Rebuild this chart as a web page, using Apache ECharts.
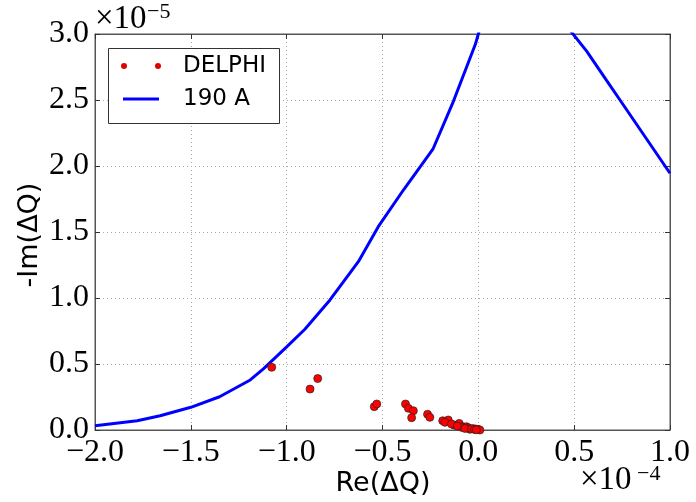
<!DOCTYPE html>
<html><head><meta charset="utf-8">
<script src="https://cdn.jsdelivr.net/npm/echarts@6/dist/echarts.min.js"></script>
<style>html,body{margin:0;padding:0;background:#fff}#c{width:696px;height:502px}</style>
</head><body><div id="c"></div>
<script>
// Values in units of 1e-4 (x, Re) and 1e-5 (y, -Im)
const delphiRe = [-1.078,-0.878,-0.838,-0.543,-0.530,-0.380,-0.365,-0.339,-0.348,-0.265,-0.253,-0.186,-0.157,-0.174,-0.127,-0.100,-0.080,-0.088,-0.062,-0.053,-0.045,-0.027,-0.015,-0.001,0.008,-0.140,-0.110,-0.070,-0.035,-0.020,-0.010];
const delphiIm = [0.475,0.310,0.390,0.177,0.197,0.197,0.164,0.146,0.093,0.119,0.096,0.070,0.076,0.058,0.038,0.050,0.025,0.020,0.025,0.017,0.005,0.010,0.008,0.005,0.000,0.045,0.030,0.012,0.010,0.004,0.002];
const lineRe = [-2.0,-1.78,-1.66,-1.50,-1.35,-1.19,-1.12,-1.0,-0.905,-0.774,-0.626,-0.522,-0.39,-0.237,-0.13,-0.016,0.05,0.20,0.35,0.45,0.565,0.668,0.739,1.0];
const lineIm = [0.033,0.070,0.108,0.172,0.252,0.379,0.465,0.63,0.763,0.985,1.275,1.54,1.82,2.127,2.49,2.92,3.25,3.55,3.40,3.08,2.87,2.65,2.50,1.945];
const xTicks = [-2.0,-1.5,-1.0,-0.5,0.0,0.5,1.0];
const yTicks = [0.0,0.5,1.0,1.5,2.0,2.5,3.0];

const fmt = v => (v < 0 ? '\u2212' : '') + Math.abs(v).toFixed(1);
const serif = 'Liberation Serif';
const grid = {left:95, right:26, top:34, bottom:72, show:true, borderColor:'#555', borderWidth:1};
const gridLine = {show:true, lineStyle:{color:'#aaa', type:[1,3], width:1}};

const chart = echarts.init(document.getElementById('c'), null, {renderer:'canvas'});
chart.setOption({
  animation:false,
  grid: grid,
  xAxis: [
    {type:'value', min:-2.0, max:1.0, interval:0.5, position:'bottom',
     axisLine:{show:true, onZero:false, lineStyle:{color:'#555'}},
     axisTick:{show:true, inside:true, length:5, lineStyle:{color:'#333'}},
     axisLabel:{formatter:fmt, fontFamily:serif, fontSize:32, color:'#000', margin:7},
     splitLine:gridLine},
    {type:'value', min:-2.0, max:1.0, interval:0.5, position:'top',
     axisLine:{show:true, onZero:false, lineStyle:{color:'#555'}},
     axisTick:{show:true, inside:true, length:5, lineStyle:{color:'#333'}},
     axisLabel:{show:false}, splitLine:{show:false}}
  ],
  yAxis: [
    {type:'value', min:0, max:3.0, interval:0.5, position:'left',
     axisLine:{show:true, onZero:false, lineStyle:{color:'#555'}},
     axisTick:{show:true, inside:true, length:5, lineStyle:{color:'#333'}},
     axisLabel:{formatter:fmt, fontFamily:serif, fontSize:32, color:'#000', margin:6},
     splitLine:gridLine},
    {type:'value', min:0, max:3.0, interval:0.5, position:'right',
     axisLine:{show:true, onZero:false, lineStyle:{color:'#555'}},
     axisTick:{show:true, inside:true, length:5, lineStyle:{color:'#333'}},
     axisLabel:{show:false}, splitLine:{show:false}}
  ],
  series: [
    {name:'190 A', type:'line', data: lineRe.map((x,i)=>[x,lineIm[i]]), showSymbol:false, symbol:'none',
     clip:true, lineStyle:{color:'#0000ff', width:3}, z:2},
    {name:'DELPHI', type:'scatter', data: delphiRe.map((x,i)=>[x,delphiIm[i]]), symbol:'circle', symbolSize:8,
     clip:false, itemStyle:{color:'#ff0000', opacity:1, borderColor:'#222', borderWidth:0.7}, z:3}
  ],
  graphic: [
    {type:'text', x:95, y:36, style:{text:'\u00d710', font:'33px "Liberation Serif"', fill:'#000', verticalAlign:'bottom'}, z:20},
    {type:'text', x:147, y:23, style:{text:'\u22125', font:'22px "Liberation Serif"', fill:'#000', verticalAlign:'bottom'}, z:20},
    {type:'text', x:580, y:497, style:{text:'\u00d710', font:'33px "Liberation Serif"', fill:'#000', verticalAlign:'bottom'}},
    {type:'text', x:637, y:485, style:{text:'\u22124', font:'22px "Liberation Serif"', fill:'#000', verticalAlign:'bottom'}},
    {type:'text', x:383, y:484, style:{text:'Re(\u0394Q)', font:'27px "DejaVu Sans"', fill:'#000', align:'center', verticalAlign:'middle'}},
    {type:'text', x:30, y:235, rotation:Math.PI/2, style:{text:'-Im(\u0394Q)', font:'27px "DejaVu Sans"', fill:'#000', align:'center', verticalAlign:'middle'}},
    {type:'rect', shape:{x:108.5, y:48.5, width:171, height:75}, style:{fill:'#fff', stroke:'#333', lineWidth:1}, z:10},
    {type:'circle', shape:{cx:124, cy:66, r:3}, style:{fill:'#e00000'}, z:11},
    {type:'circle', shape:{cx:158, cy:66, r:3}, style:{fill:'#e00000'}, z:11},
    {type:'text', x:183, y:66, style:{text:'DELPHI', font:'23px "DejaVu Sans"', fill:'#000', verticalAlign:'middle'}, z:11},
    {type:'line', shape:{x1:123, y1:99, x2:159, y2:99}, style:{stroke:'#0000ff', lineWidth:3}, z:11},
    {type:'text', x:183, y:99, style:{text:'190 A', font:'23px "DejaVu Sans"', fill:'#000', verticalAlign:'middle'}, z:11}
  ]
});
</script></body></html>
